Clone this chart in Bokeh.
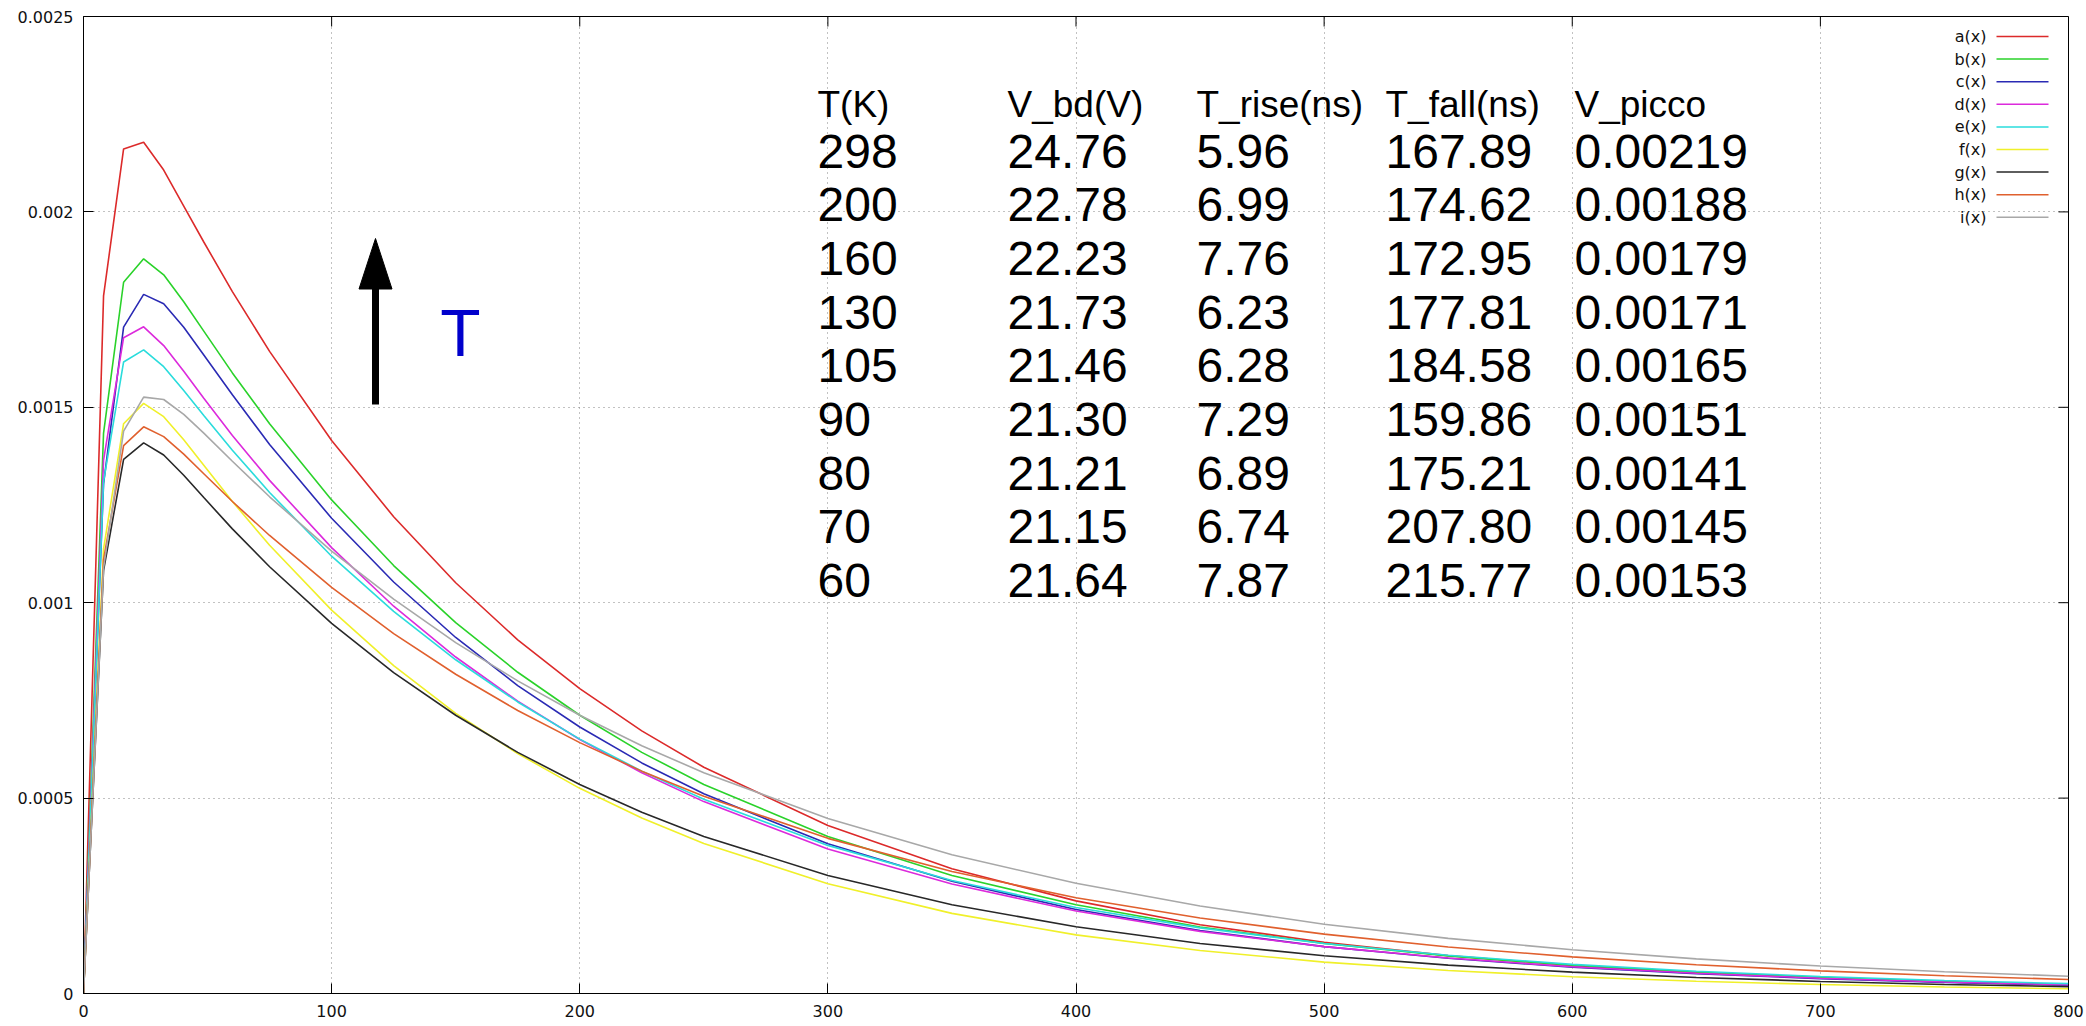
from bokeh.plotting import figure
from bokeh.models import Range1d, FixedTicker
from bokeh.core.properties import value
from bokeh.embed import file_html
from bokeh.resources import INLINE

# ---------------- data ----------------
x = [0, 8.08, 16.16, 24.24, 32.32, 40.4, 48.48, 60, 75, 100, 125, 150, 175, 200,
     225, 250, 300, 350, 400, 450, 500, 550, 600, 650, 700, 750, 800]

a = [0, 0.001785, 0.002161, 0.002178, 0.002107, 0.002015, 0.001923, 0.001796, 0.001643,
     0.001415, 0.001220, 0.001051, 0.000905, 0.000780, 0.000672, 0.000579, 0.000430,
     0.000319, 0.000237, 0.000176, 0.000131, 0.0000970, 0.0000720, 0.0000535, 0.0000397,
     0.0000295, 0.0000219]
b = [0, 0.001434, 0.001820, 0.001880, 0.001839, 0.001770, 0.001695, 0.001588, 0.001458,
     0.001263, 0.001095, 0.000949, 0.000822, 0.000712, 0.000617, 0.000535, 0.000402,
     0.000302, 0.000227, 0.000170, 0.000128, 0.0000960, 0.0000721, 0.0000542, 0.0000407,
     0.0000306, 0.0000229]
c = [0, 0.001304, 0.001705, 0.001789, 0.001765, 0.001705, 0.001634, 0.001532, 0.001405,
     0.001216, 0.001053, 0.000911, 0.000788, 0.000682, 0.000590, 0.000511, 0.000383,
     0.000287, 0.000215, 0.000161, 0.000120, 0.0000901, 0.0000675, 0.0000506, 0.0000379,
     0.0000284, 0.0000212]
d = [0, 0.001365, 0.001678, 0.001706, 0.001658, 0.001592, 0.001523, 0.001428, 0.001313,
     0.001141, 0.000991, 0.000861, 0.000748, 0.000650, 0.000565, 0.000491, 0.000370,
     0.000280, 0.000211, 0.000159, 0.000120, 0.0000908, 0.0000685, 0.0000517, 0.0000390,
     0.0000295, 0.0000223]
e = [0, 0.001310, 0.001616, 0.001647, 0.001604, 0.001543, 0.001479, 0.001390, 0.001282,
     0.001119, 0.000978, 0.000854, 0.000746, 0.000651, 0.000569, 0.000497, 0.000379,
     0.000289, 0.000220, 0.000168, 0.000128, 0.0000978, 0.0000746, 0.0000569, 0.0000434,
     0.0000331, 0.0000252]
f = [0, 0.001138, 0.001458, 0.001510, 0.001476, 0.001417, 0.001352, 0.001259, 0.001147,
     0.000981, 0.000839, 0.000717, 0.000614, 0.000525, 0.000449, 0.000384, 0.000281,
     0.000205, 0.000150, 0.000110, 0.0000803, 0.0000588, 0.0000430, 0.0000314, 0.0000230,
     0.0000168, 0.0000123]
g = [0, 0.001082, 0.001367, 0.001409, 0.001378, 0.001326, 0.001269, 0.001189, 0.001092,
     0.000947, 0.000821, 0.000712, 0.000617, 0.000535, 0.000464, 0.000402, 0.000302,
     0.000227, 0.000171, 0.000128, 0.0000966, 0.0000726, 0.0000546, 0.0000410, 0.0000308,
     0.0000232, 0.0000174]
h = [0, 0.001110, 0.001402, 0.001450, 0.001425, 0.001380, 0.001330, 0.001259, 0.001172,
     0.001039, 0.000921, 0.000817, 0.000724, 0.000642, 0.000569, 0.000505, 0.000397,
     0.000312, 0.000245, 0.000193, 0.000152, 0.000119, 0.0000937, 0.0000736, 0.0000579,
     0.0000455, 0.0000358]
i = [0, 0.001089, 0.001439, 0.001526, 0.001520, 0.001482, 0.001434, 0.001362, 0.001271,
     0.001132, 0.001009, 0.000898, 0.000800, 0.000712, 0.000634, 0.000565, 0.000448,
     0.000355, 0.000282, 0.000224, 0.000177, 0.000141, 0.000112, 0.0000885, 0.0000702,
     0.0000557, 0.0000442]

series_names = ["a(x)", "b(x)", "c(x)", "d(x)", "e(x)", "f(x)", "g(x)", "h(x)", "i(x)"]
series_values = [a, b, c, d, e, f, g, h, i]
series_colors = ["#dc2a2a", "#2ad22a", "#2a2ab4", "#dc2adc", "#2adcdc", "#f0f02a",
                 "#282828", "#e0602e", "#a8a8a8"]

# table shown in the plot
table_headers = ["T(K)", "V_bd(V)", "T_rise(ns)", "T_fall(ns)", "V_picco"]
temp_k = ["298", "200", "160", "130", "105", "90", "80", "70", "60"]
v_bd = ["24.76", "22.78", "22.23", "21.73", "21.46", "21.30", "21.21", "21.15", "21.64"]
t_rise = ["5.96", "6.99", "7.76", "6.23", "6.28", "7.29", "6.89", "6.74", "7.87"]
t_fall = ["167.89", "174.62", "172.95", "177.81", "184.58", "159.86", "175.21", "207.80", "215.77"]
v_picco = ["0.00219", "0.00188", "0.00179", "0.00171", "0.00165", "0.00151", "0.00141",
           "0.00145", "0.00153"]

x_ticks = [0, 100, 200, 300, 400, 500, 600, 700, 800]
y_ticks = [0, 0.0005, 0.001, 0.0015, 0.002, 0.0025]
y_tick_labels = ["0", "0.0005", "0.001", "0.0015", "0.002", "0.0025"]

# ---------------- layout ----------------
W, H = 2084, 1023
BL, BR, BT, BB = 83, 16, 16, 30
X0, X1, Y0, Y1 = 0, 800, 0, 0.0025
FW, FH = W - BL - BR, H - BT - BB


def px2x(px):  # page pixel -> data x
    return X0 + (px - BL) / FW * (X1 - X0)


def py2y(py):  # page pixel -> data y
    return Y0 + (H - BB - py) / FH * (Y1 - Y0)


p = figure(width=W, height=H, output_backend="svg", toolbar_location=None,
           x_range=Range1d(X0, X1), y_range=Range1d(Y0, Y1),
           min_border_left=BL, min_border_right=BR, min_border_top=BT, min_border_bottom=BB)
p.background_fill_color = "white"
p.border_fill_color = "white"
p.outline_line_color = "black"
p.outline_line_width = 1

xt = FixedTicker(ticks=x_ticks)
yt = FixedTicker(ticks=y_ticks)
p.xaxis.ticker = xt
p.yaxis.ticker = yt
p.xgrid.ticker = xt
p.ygrid.ticker = yt
p.yaxis.major_label_overrides = dict(zip(y_ticks, y_tick_labels))

for ax in (p.xaxis[0], p.yaxis[0]):
    ax.major_tick_in = 10
    ax.major_tick_out = 0
    ax.minor_tick_line_color = None
    ax.axis_line_color = "black"
    ax.major_tick_line_color = "black"
    ax.major_label_text_font = "DejaVu Sans"
    ax.major_label_text_font_size = "16px"
    ax.major_label_text_color = "#111111"
p.xaxis.major_label_standoff = 11
p.yaxis.major_label_standoff = 10

for gr in (p.xgrid[0], p.ygrid[0]):
    gr.grid_line_color = "#858585"
    gr.grid_line_dash = "1 4"
    gr.grid_line_width = 1

# mirrored ticks on the top and right borders (10 px long, pointing inward)
p.segment(x0=x_ticks, y0=[Y1] * len(x_ticks), x1=x_ticks,
          y1=[py2y(BT + 10)] * len(x_ticks), line_color="black", line_width=1)
p.segment(x0=[X1] * len(y_ticks), y0=y_ticks, x1=[px2x(W - BR - 10)] * len(y_ticks),
          y1=y_ticks, line_color="black", line_width=1)

# curves
for name, vals, col in zip(series_names, series_values, series_colors):
    p.line(x, vals, line_color=col, line_width=1.6)

# legend (top right, labels right-aligned, sample line to the right)
leg_y = [py2y(36 + 22.6 * k) for k in range(len(series_names))]
p.text(x=[px2x(1986)] * len(series_names), y=leg_y, text=series_names,
       text_align="right", text_baseline="middle", text_font=value("DejaVu Sans"),
       text_font_size="16px", text_color="#111111")
p.segment(x0=[px2x(1996)] * len(series_names), y0=leg_y,
          x1=[px2x(2048)] * len(series_names), y1=leg_y,
          line_color=series_colors, line_width=1.5)

# table of parameters
col_px = [817, 1007, 1196, 1385, 1574]
cols = [temp_k, v_bd, t_rise, t_fall, v_picco]
tx, ty, tt = [], [], []
for ci, colvals in enumerate(cols):
    for ri, v in enumerate(colvals):
        tx.append(px2x(col_px[ci]))
        ty.append(py2y(150.5 + 53.7 * ri))
        tt.append(v)
p.text(x=tx, y=ty, text=tt, text_align="left", text_baseline="middle",
       text_font=value("Liberation Sans"), text_font_size="48px", text_color="black")
p.text(x=[px2x(cp) for cp in col_px], y=[py2y(104)] * 5, text=table_headers,
       text_align="left", text_baseline="middle",
       text_font=value("Liberation Sans"), text_font_size="37px", text_color="black")

# arrow and "T"
ax_x = px2x(375)
p.segment(x0=[ax_x], y0=[py2y(404)], x1=[ax_x], y1=[py2y(286)],
          line_color="black", line_width=7, line_cap="butt")
p.patch(x=[px2x(358.5), ax_x, px2x(391.5)], y=[py2y(288.5), py2y(238), py2y(288.5)],
        fill_color="black", line_color="black", line_width=1)
p.text(x=[px2x(460)], y=[py2y(332)], text=["T"], text_align="center",
       text_baseline="middle", text_font=value("Liberation Sans"),
       text_font_size="66px", text_color="#0000cc")

open("out.html", "w").write(file_html(p, INLINE))
